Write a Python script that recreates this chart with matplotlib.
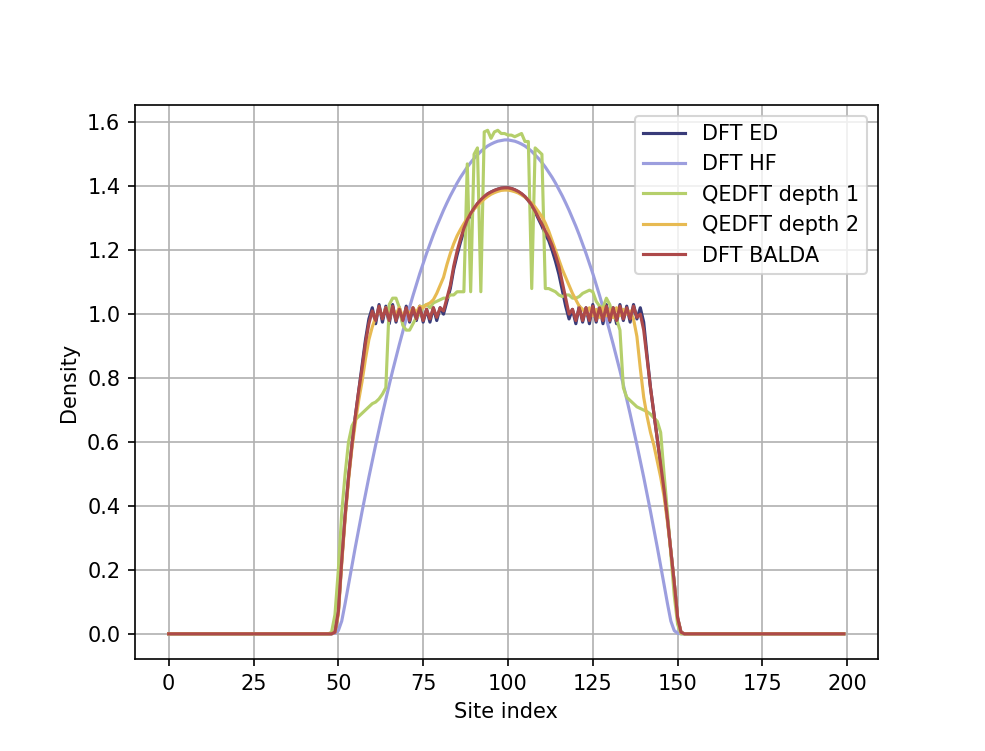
import numpy as np
import matplotlib
matplotlib.use('Agg')
import matplotlib.pyplot as plt

N_SITES = 200
CORE_START = 47  # first site of the lists below, all other sites are empty (0)

sites = np.arange(N_SITES)

labels = ['DFT ED', 'DFT HF', 'QEDFT depth 1', 'QEDFT depth 2', 'DFT BALDA']
colors = ['#393b79', '#9c9ede', '#b5cf6b', '#e7ba52', '#ad494a']

# sites 47..152, ten per row
dft_ed = [
    0.0, 0.0, 0.005, 0.07, 0.23, 0.37, 0.49, 0.59, 0.68, 0.76,
    0.84, 0.92, 0.985, 1.02, 0.97, 1.03, 0.975, 1.025, 0.97, 1.03,
    0.975, 1.02, 0.97, 1.025, 0.975, 1.02, 0.98, 1.025, 0.975, 1.015,
    0.975, 1.02, 0.98, 1.02, 1.0, 1.04, 1.08, 1.14, 1.185, 1.225,
    1.26, 1.29, 1.31, 1.33, 1.345, 1.357, 1.367, 1.376, 1.382, 1.387,
    1.391, 1.394, 1.395, 1.395, 1.393, 1.389, 1.383, 1.376, 1.367, 1.355,
    1.34, 1.32, 1.297, 1.275, 1.25, 1.23, 1.2, 1.165, 1.125, 1.075,
    1.025, 0.985, 1.015, 0.97, 1.025, 0.975, 1.02, 0.97, 1.03, 0.975,
    1.025, 0.97, 1.03, 0.975, 1.02, 0.97, 1.03, 0.98, 1.025, 0.975,
    1.03, 0.985, 1.02, 0.975, 0.87, 0.77, 0.69, 0.61, 0.53, 0.45,
    0.36, 0.26, 0.16, 0.05, 0.005, 0.0,
]

dft_hf = [
    0.0, 0.0, 0.002, 0.01, 0.04, 0.095, 0.154, 0.213, 0.271, 0.327,
    0.383, 0.437, 0.49, 0.541, 0.591, 0.64, 0.688, 0.734, 0.779, 0.823,
    0.865, 0.906, 0.946, 0.985, 1.022, 1.058, 1.093, 1.127, 1.159, 1.19,
    1.219, 1.248, 1.275, 1.3, 1.325, 1.348, 1.37, 1.39, 1.41, 1.428,
    1.444, 1.46, 1.474, 1.487, 1.498, 1.509, 1.518, 1.526, 1.532, 1.537,
    1.541, 1.543, 1.545, 1.545, 1.543, 1.541, 1.537, 1.532, 1.526, 1.518,
    1.509, 1.498, 1.487, 1.474, 1.46, 1.444, 1.428, 1.41, 1.39, 1.37,
    1.348, 1.325, 1.3, 1.275, 1.248, 1.219, 1.19, 1.159, 1.127, 1.093,
    1.058, 1.022, 0.985, 0.946, 0.906, 0.865, 0.823, 0.779, 0.734, 0.688,
    0.64, 0.591, 0.541, 0.49, 0.437, 0.383, 0.327, 0.271, 0.213, 0.154,
    0.095, 0.04, 0.01, 0.002, 0.0, 0.0,
]

qedft_depth1 = [
    0.0, 0.005, 0.06, 0.2, 0.38, 0.5, 0.6, 0.65, 0.67, 0.68,
    0.69, 0.7, 0.71, 0.72, 0.725, 0.735, 0.75, 0.77, 1.03, 1.05,
    1.05, 1.02, 0.965, 0.95, 0.95, 0.97, 0.99, 1.0, 1.025, 1.03,
    1.02, 1.035, 1.04, 1.045, 1.05, 1.05, 1.06, 1.06, 1.07, 1.07,
    1.07, 1.47, 1.07, 1.5, 1.52, 1.07, 1.57, 1.575, 1.55, 1.57,
    1.575, 1.565, 1.565, 1.56, 1.56, 1.555, 1.56, 1.565, 1.54, 1.54,
    1.08, 1.52, 1.51, 1.5, 1.08, 1.08, 1.075, 1.07, 1.06, 1.055,
    1.06, 1.06, 1.05, 1.05, 1.055, 1.065, 1.07, 1.075, 1.07, 1.04,
    1.025, 1.02, 1.05, 1.03, 0.99, 0.985, 0.95, 0.77, 0.74, 0.73,
    0.72, 0.71, 0.705, 0.7, 0.695, 0.687, 0.675, 0.665, 0.63, 0.5,
    0.38, 0.25, 0.12, 0.03, 0.0, 0.0,
]

qedft_depth2 = [
    0.0, 0.0, 0.005, 0.06, 0.22, 0.36, 0.48, 0.58, 0.66, 0.73,
    0.79, 0.86, 0.92, 0.96, 0.99, 1.015, 0.99, 1.02, 0.985, 1.015,
    1.0, 1.02, 0.99, 1.015, 1.0, 1.02, 1.005, 1.025, 1.02, 1.03,
    1.035, 1.045, 1.065, 1.09, 1.115, 1.155, 1.19, 1.22, 1.245, 1.265,
    1.283, 1.3, 1.315, 1.328, 1.34, 1.35, 1.36, 1.368, 1.375, 1.38,
    1.384, 1.387, 1.388, 1.388, 1.386, 1.383, 1.379, 1.373, 1.366, 1.357,
    1.347, 1.335, 1.32, 1.305, 1.285, 1.26, 1.23, 1.2, 1.17, 1.14,
    1.115, 1.09, 1.065, 1.045, 1.025, 1.015, 1.0, 1.02, 0.995, 1.015,
    0.99, 1.02, 0.995, 1.015, 0.99, 1.02, 0.995, 1.015, 1.0, 1.01,
    0.985, 0.93, 0.83, 0.74, 0.68, 0.63, 0.59, 0.54, 0.49, 0.43,
    0.35, 0.26, 0.16, 0.05, 0.005, 0.0,
]

dft_balda = [
    0.0, 0.0, 0.005, 0.07, 0.23, 0.37, 0.49, 0.59, 0.68, 0.76,
    0.83, 0.91, 0.97, 1.01, 0.98, 1.025, 0.985, 1.02, 0.98, 1.025,
    0.98, 1.015, 0.98, 1.02, 0.98, 1.02, 0.985, 1.02, 0.98, 1.015,
    0.985, 1.02, 0.99, 1.02, 1.01, 1.05, 1.09, 1.15, 1.197, 1.235,
    1.268, 1.295, 1.315, 1.332, 1.346, 1.358, 1.368, 1.376, 1.382, 1.387,
    1.391, 1.394, 1.395, 1.395, 1.393, 1.389, 1.384, 1.377, 1.368, 1.356,
    1.341, 1.322, 1.302, 1.282, 1.26, 1.24, 1.215, 1.185, 1.15, 1.1,
    1.05, 1.0, 1.015, 0.98, 1.02, 0.98, 1.02, 0.98, 1.025, 0.98,
    1.02, 0.98, 1.025, 0.98, 1.02, 0.98, 1.025, 0.985, 1.02, 0.985,
    1.025, 0.99, 1.0, 0.95, 0.86, 0.77, 0.69, 0.61, 0.53, 0.45,
    0.36, 0.26, 0.16, 0.05, 0.005, 0.0,
]


def full_profile(core):
    density = np.zeros(N_SITES)
    density[CORE_START:CORE_START + len(core)] = core
    return density


fig = plt.figure(figsize=(985 / 150, 751 / 150), dpi=150)
ax = fig.add_axes([0.137, 0.1225, 0.754, 0.7375])

for core, label, c in zip([dft_ed, dft_hf, qedft_depth1, qedft_depth2, dft_balda], labels, colors):
    ax.plot(sites, full_profile(core), label=label, c=c)

ax.set_xlabel('Site index')
ax.set_ylabel('Density')
ax.grid(True)
ax.legend(loc='upper right')

plt.savefig('out.png', dpi=150)
